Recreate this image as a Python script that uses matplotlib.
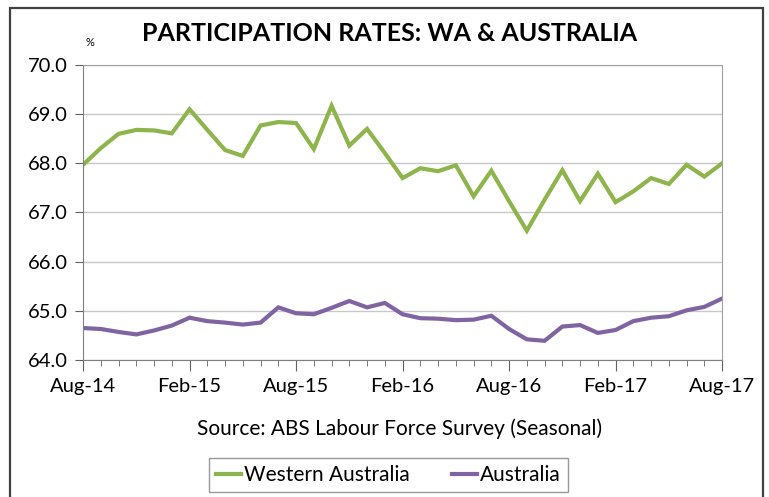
import matplotlib
matplotlib.use('Agg')
import matplotlib.pyplot as plt
from matplotlib.patches import Rectangle
import numpy as np

plt.rcParams['font.family'] = ['Lato', 'DejaVu Sans']

months = ['Aug-14', 'Sep-14', 'Oct-14', 'Nov-14', 'Dec-14', 'Jan-15',
          'Feb-15', 'Mar-15', 'Apr-15', 'May-15', 'Jun-15', 'Jul-15',
          'Aug-15', 'Sep-15', 'Oct-15', 'Nov-15', 'Dec-15', 'Jan-16',
          'Feb-16', 'Mar-16', 'Apr-16', 'May-16', 'Jun-16', 'Jul-16',
          'Aug-16', 'Sep-16', 'Oct-16', 'Nov-16', 'Dec-16', 'Jan-17',
          'Feb-17', 'Mar-17', 'Apr-17', 'May-17', 'Jun-17', 'Jul-17',
          'Aug-17']

wa = [67.97, 68.31, 68.60, 68.68, 68.67, 68.61, 69.10, 68.68, 68.27, 68.15,
      68.77, 68.84, 68.82, 68.29, 69.17, 68.36, 68.70, 68.21, 67.70, 67.90,
      67.84, 67.96, 67.33, 67.85, 67.23, 66.63, 67.26, 67.86, 67.23, 67.79,
      67.21, 67.43, 67.70, 67.58, 67.97, 67.73, 68.00]

aus = [64.65, 64.63, 64.57, 64.52, 64.60, 64.70, 64.86, 64.79, 64.76, 64.72,
       64.76, 65.07, 64.95, 64.93, 65.06, 65.20, 65.07, 65.16, 64.93, 64.85,
       64.84, 64.81, 64.82, 64.90, 64.63, 64.42, 64.39, 64.68, 64.71, 64.55,
       64.61, 64.79, 64.86, 64.89, 65.01, 65.08, 65.25]

green = '#8db54b'
purple = '#8064a2'

fig = plt.figure(figsize=(7.69, 4.97), dpi=100)
ax = fig.add_axes([0.108, 0.2757, 0.831, 0.5935])

x = np.arange(len(months))
ax.plot(x, wa, color=green, lw=3, label='Western Australia', solid_joinstyle='miter')
ax.plot(x, aus, color=purple, lw=3, label='Australia', solid_joinstyle='miter')

ax.set_xlim(0, len(months) - 1)
ax.set_ylim(64, 70)
yt = np.arange(64, 70.1, 1)
ax.set_yticks(yt)
ax.set_yticklabels(['%.1f' % v for v in yt], fontsize=14.5)
ax.yaxis.grid(True, color='#c8c8c8', lw=1)
ax.set_axisbelow(True)

major = x[::6]
ax.set_xticks(major)
ax.set_xticklabels([months[i] for i in major], fontsize=14.5)
ax.set_xticks(x, minor=True)
ax.tick_params(axis='x', which='major', direction='out', length=8, color='#606060', pad=5)
ax.tick_params(axis='x', which='minor', direction='out', length=4, color='#606060')
ax.tick_params(axis='y', direction='out', length=6, color='#606060', pad=5)

for s in ['left', 'bottom']:
    ax.spines[s].set_color('#808080')
for s in ['top', 'right']:
    ax.spines[s].set_color('#a0a0a0')

fig.text(0.506, 0.932, 'PARTICIPATION RATES: WA & AUSTRALIA', ha='center', va='center',
         fontsize=18, fontweight='bold')
fig.text(0.117, 0.915, '%', ha='center', va='center', fontsize=8)
fig.text(0.52, 0.138, 'Source: ABS Labour Force Survey (Seasonal)', ha='center',
         va='center', fontsize=15)

leg = fig.legend(loc='center', bbox_to_anchor=(0.505, 0.044), ncol=2, fontsize=15,
                 frameon=True, fancybox=False, edgecolor='#808080', handlelength=1.2,
                 handletextpad=0.15, columnspacing=2.0, borderpad=0.35)
leg.get_frame().set_linewidth(1)

fig.patches.append(Rectangle((10 / 769, -0.05), 753 / 769, 1.05 - 8 / 497,
                             transform=fig.transFigure, fill=False,
                             edgecolor='#404040', lw=1.6))

fig.savefig('out.png', dpi=100)
